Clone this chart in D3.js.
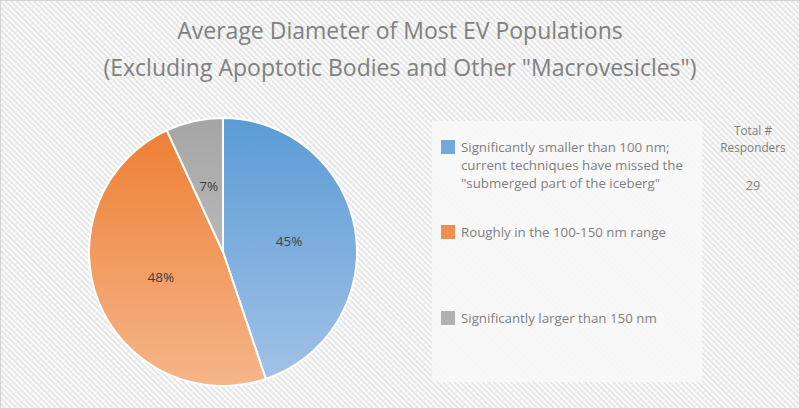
<!DOCTYPE html>
<html>
<head>
<meta charset="utf-8">
<script src="https://cdn.jsdelivr.net/npm/d3@7"></script>
<style>
  html, body { margin: 0; padding: 0; background: #fff; }
  svg { display: block; }
</style>
</head>
<body>
<svg id="chart" width="800" height="409"></svg>
<script>
// ---- data ----
const titleLines = ["Average Diameter of Most EV Populations", "(Excluding Apoptotic Bodies and Other \"Macrovesicles\")"];
const categories = ["Significantly smaller than 100 nm", "Roughly in the 100-150 nm range", "Significantly larger than 150 nm"];
const legendLines = [
  ["Significantly smaller than 100 nm;", "current techniques have missed the", "\"submerged part of the iceberg\""],
  ["Roughly in the 100-150 nm range"],
  ["Significantly larger than 150 nm"]
];
const counts = [13, 14, 2];
const totalLabel = ["Total #", "Responders"];
const totalValue = [29];
const colorTop = ["#5b9bd5", "#ed7d31", "#a5a5a5"];
const colorBottom = ["#a2c3e7", "#f5b68a", "#cbcbcb"];

// ---- drawing ----
const W = 800, H = 409;
const svg = d3.select("#chart");
const defs = svg.append("defs");

const pat = defs.append("pattern").attr("id", "stripes")
  .attr("patternUnits", "userSpaceOnUse").attr("width", 4).attr("height", 4)
  .attr("patternTransform", "rotate(45)");
pat.append("rect").attr("width", 4).attr("height", 4).attr("fill", "#fbfbfb");
pat.append("rect").attr("width", 4).attr("height", 1.6).attr("fill", "#e2e2e2");

svg.append("rect").attr("width", W).attr("height", H).attr("fill", "url(#stripes)");
svg.append("rect").attr("x", 0.5).attr("y", 0.5).attr("width", W - 1).attr("height", H - 1)
  .attr("fill", "none").attr("stroke", "#d4d4d4").attr("stroke-width", 1);

// title
const title = svg.append("g").attr("font-family", "'Open Sans', sans-serif")
  .attr("fill", "#808080").attr("text-anchor", "middle");
title.selectAll("text").data(titleLines).join("text")
  .attr("x", 400).attr("y", (d, i) => 39 + i * 37)
  .attr("font-size", 23).attr("font-weight", 400)
  .text(d => d);

// pie
const cx = 223, cy = 252, R = 134;
const pie = d3.pie().sort(null).value(d => d);
const arcs = pie(counts);
const arc = d3.arc().innerRadius(0).outerRadius(R);
const total = d3.sum(counts);
const pct = d3.format(".0%");

counts.forEach((c, i) => {
  const g = defs.append("linearGradient").attr("id", "grad" + i)
    .attr("gradientUnits", "userSpaceOnUse")
    .attr("x1", 0).attr("y1", -R).attr("x2", 0).attr("y2", R);
  g.append("stop").attr("offset", "0%").attr("stop-color", colorTop[i]);
  g.append("stop").attr("offset", "100%").attr("stop-color", colorBottom[i]);
});

const pg = svg.append("g").attr("transform", `translate(${cx},${cy})`);
pg.selectAll("path").data(arcs).join("path")
  .attr("d", arc)
  .attr("fill", (d, i) => `url(#grad${i})`)
  .attr("stroke", "#fff").attr("stroke-width", 2).attr("stroke-linejoin", "round");

pg.selectAll("text").data(arcs).join("text")
  .attr("transform", d => `translate(${arc.centroid(d)})`)
  .attr("text-anchor", "middle").attr("dy", "0.35em")
  .attr("font-family", "'Open Sans', sans-serif").attr("font-size", 13.5)
  .attr("fill", "#404040")
  .text(d => pct(d.data / total));

// legend box
svg.append("rect").attr("x", 432).attr("y", 121).attr("width", 270).attr("height", 261)
  .attr("fill", "#f8f8f8").attr("opacity", 0.9);

const legendY = [140, 225, 311];
const lg = svg.append("g").attr("font-family", "'Open Sans', sans-serif")
  .attr("font-size", 13.3).attr("fill", "#7f7f7f");
legendLines.forEach((lines, i) => {
  lg.append("rect").attr("x", 441).attr("y", legendY[i]).attr("width", 14).attr("height", 14)
    .attr("fill", colorTop[i]).attr("opacity", 0.85);
  lg.append("text").attr("x", 461).attr("y", legendY[i] + 12)
    .selectAll("tspan").data(lines).join("tspan")
    .attr("x", 461).attr("dy", (d, j) => j === 0 ? 0 : 18)
    .text(d => d);
});

// total responders column
const tg = svg.append("g").attr("font-family", "'Open Sans', sans-serif")
  .attr("font-size", 11.8).attr("fill", "#7f7f7f").attr("text-anchor", "middle");
tg.selectAll("text.lbl").data(totalLabel).join("text").attr("class", "lbl")
  .attr("x", 753).attr("y", (d, i) => 135 + i * 17).text(d => d);
tg.append("text").attr("x", 753).attr("y", 190).attr("font-size", 12.5).text(totalValue[0]);
</script>
</body>
</html>
